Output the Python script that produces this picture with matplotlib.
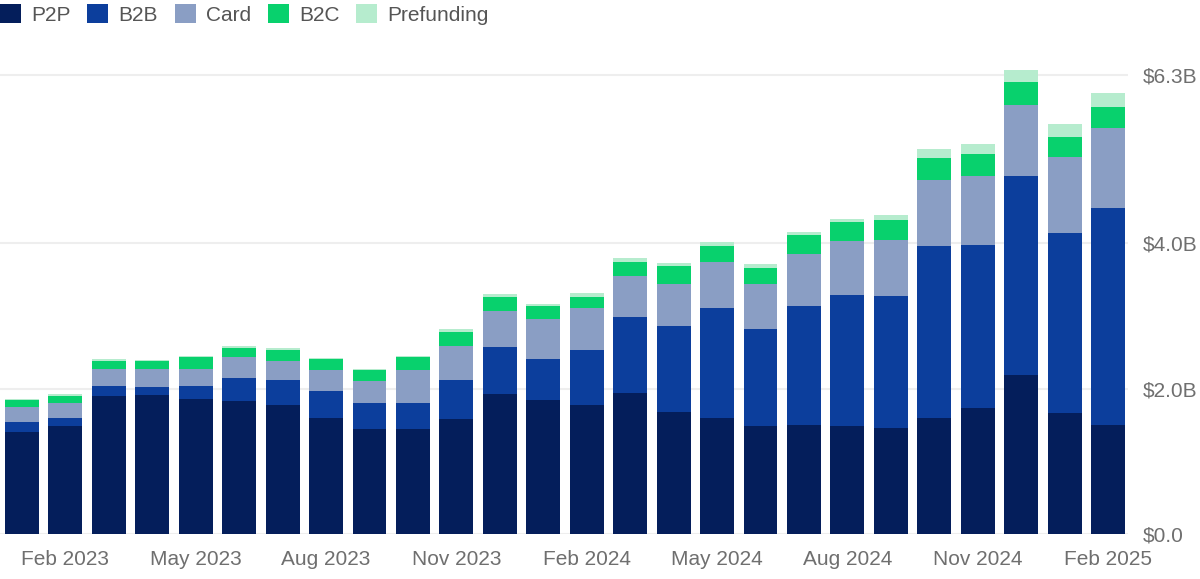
import numpy as np
import matplotlib.pyplot as plt
from matplotlib.patches import Patch

plt.rcParams["font.family"] = ["Liberation Sans", "DejaVu Sans"]

months = ["Jan 2023", "Feb 2023", "Mar 2023", "Apr 2023", "May 2023", "Jun 2023",
          "Jul 2023", "Aug 2023", "Sep 2023", "Oct 2023", "Nov 2023", "Dec 2023",
          "Jan 2024", "Feb 2024", "Mar 2024", "Apr 2024", "May 2024", "Jun 2024",
          "Jul 2024", "Aug 2024", "Sep 2024", "Oct 2024", "Nov 2024", "Dec 2024",
          "Jan 2025", "Feb 2025"]

# values in $B
p2p = [1.41, 1.48, 1.90, 1.91, 1.86, 1.83, 1.77, 1.59, 1.44, 1.44, 1.58, 1.93,
       1.84, 1.77, 1.94, 1.68, 1.59, 1.48, 1.50, 1.49, 1.46, 1.59, 1.73, 2.19,
       1.67, 1.50]
b2b = [0.13, 0.11, 0.14, 0.11, 0.17, 0.32, 0.34, 0.38, 0.36, 0.36, 0.53, 0.64,
       0.56, 0.76, 1.04, 1.18, 1.52, 1.33, 1.63, 1.79, 1.81, 2.36, 2.24, 2.73,
       2.46, 2.97]
card = [0.21, 0.21, 0.23, 0.25, 0.24, 0.28, 0.27, 0.29, 0.30, 0.45, 0.47, 0.49,
        0.55, 0.57, 0.56, 0.58, 0.63, 0.62, 0.72, 0.74, 0.77, 0.91, 0.95, 0.97,
        1.04, 1.10]
b2c = [0.09, 0.10, 0.11, 0.11, 0.16, 0.13, 0.15, 0.14, 0.15, 0.18, 0.19, 0.20,
       0.18, 0.16, 0.20, 0.24, 0.21, 0.23, 0.25, 0.26, 0.27, 0.30, 0.30, 0.32,
       0.28, 0.29]
prefunding = [0.02, 0.02, 0.02, 0.01, 0.02, 0.02, 0.02, 0.02, 0.02, 0.02, 0.04, 0.04,
              0.03, 0.05, 0.05, 0.04, 0.06, 0.05, 0.05, 0.05, 0.07, 0.12, 0.13, 0.16,
              0.18, 0.19]

series = [("P2P", p2p, "#041e5b"),
          ("B2B", b2b, "#0c3e9c"),
          ("Card", card, "#8a9ec4"),
          ("B2C", b2c, "#08d16d"),
          ("Prefunding", prefunding, "#b6ecce")]

ytick_vals = [0, 2, 4, 6.3]
ytick_labels = [r"\$0.0", r"\$2.0B", r"\$4.0B", r"\$6.3B"]

fig = plt.figure(figsize=(12, 5.79), dpi=100)
ax = fig.add_axes([0, 0.0772, 1128 / 1200, 0.8309])

x = np.arange(len(months))
bottom = np.zeros(len(months))
for name, vals, color in series:
    ax.bar(x, vals, 0.78, bottom=bottom, color=color, zorder=3)
    bottom += np.array(vals)

ax.set_xlim(-0.505, 25.46)
ax.set_ylim(0, 6.6)

ax.set_yticks(ytick_vals)
ax.set_yticklabels(ytick_labels)
ax.yaxis.tick_right()
ax.tick_params(axis="y", length=0, pad=11, labelsize=15, labelcolor="#6f6f6f")

tick_idx = [i for i, m in enumerate(months) if m[:3] in ("Feb", "May", "Aug", "Nov")]
ax.set_xticks(tick_idx)
ax.set_xticklabels([months[i] for i in tick_idx])
ax.tick_params(axis="x", length=0, pad=11, labelsize=15, labelcolor="#6f6f6f")

ax.grid(axis="y", color="#eeeeee", linewidth=1.5, zorder=0)
ax.set_axisbelow(True)
for s in ax.spines.values():
    s.set_visible(False)

handles = [Patch(facecolor=c, label=n) for n, _, c in series]
fig.legend(handles=handles, loc="upper left", bbox_to_anchor=(0.0, 0.993),
           ncol=5, frameon=False, fontsize=15, labelcolor="#555555",
           handlelength=1.0, handleheight=1.0, handletextpad=0.5,
           columnspacing=0.8, borderpad=0, borderaxespad=0)

fig.savefig("out.png", dpi=100)
